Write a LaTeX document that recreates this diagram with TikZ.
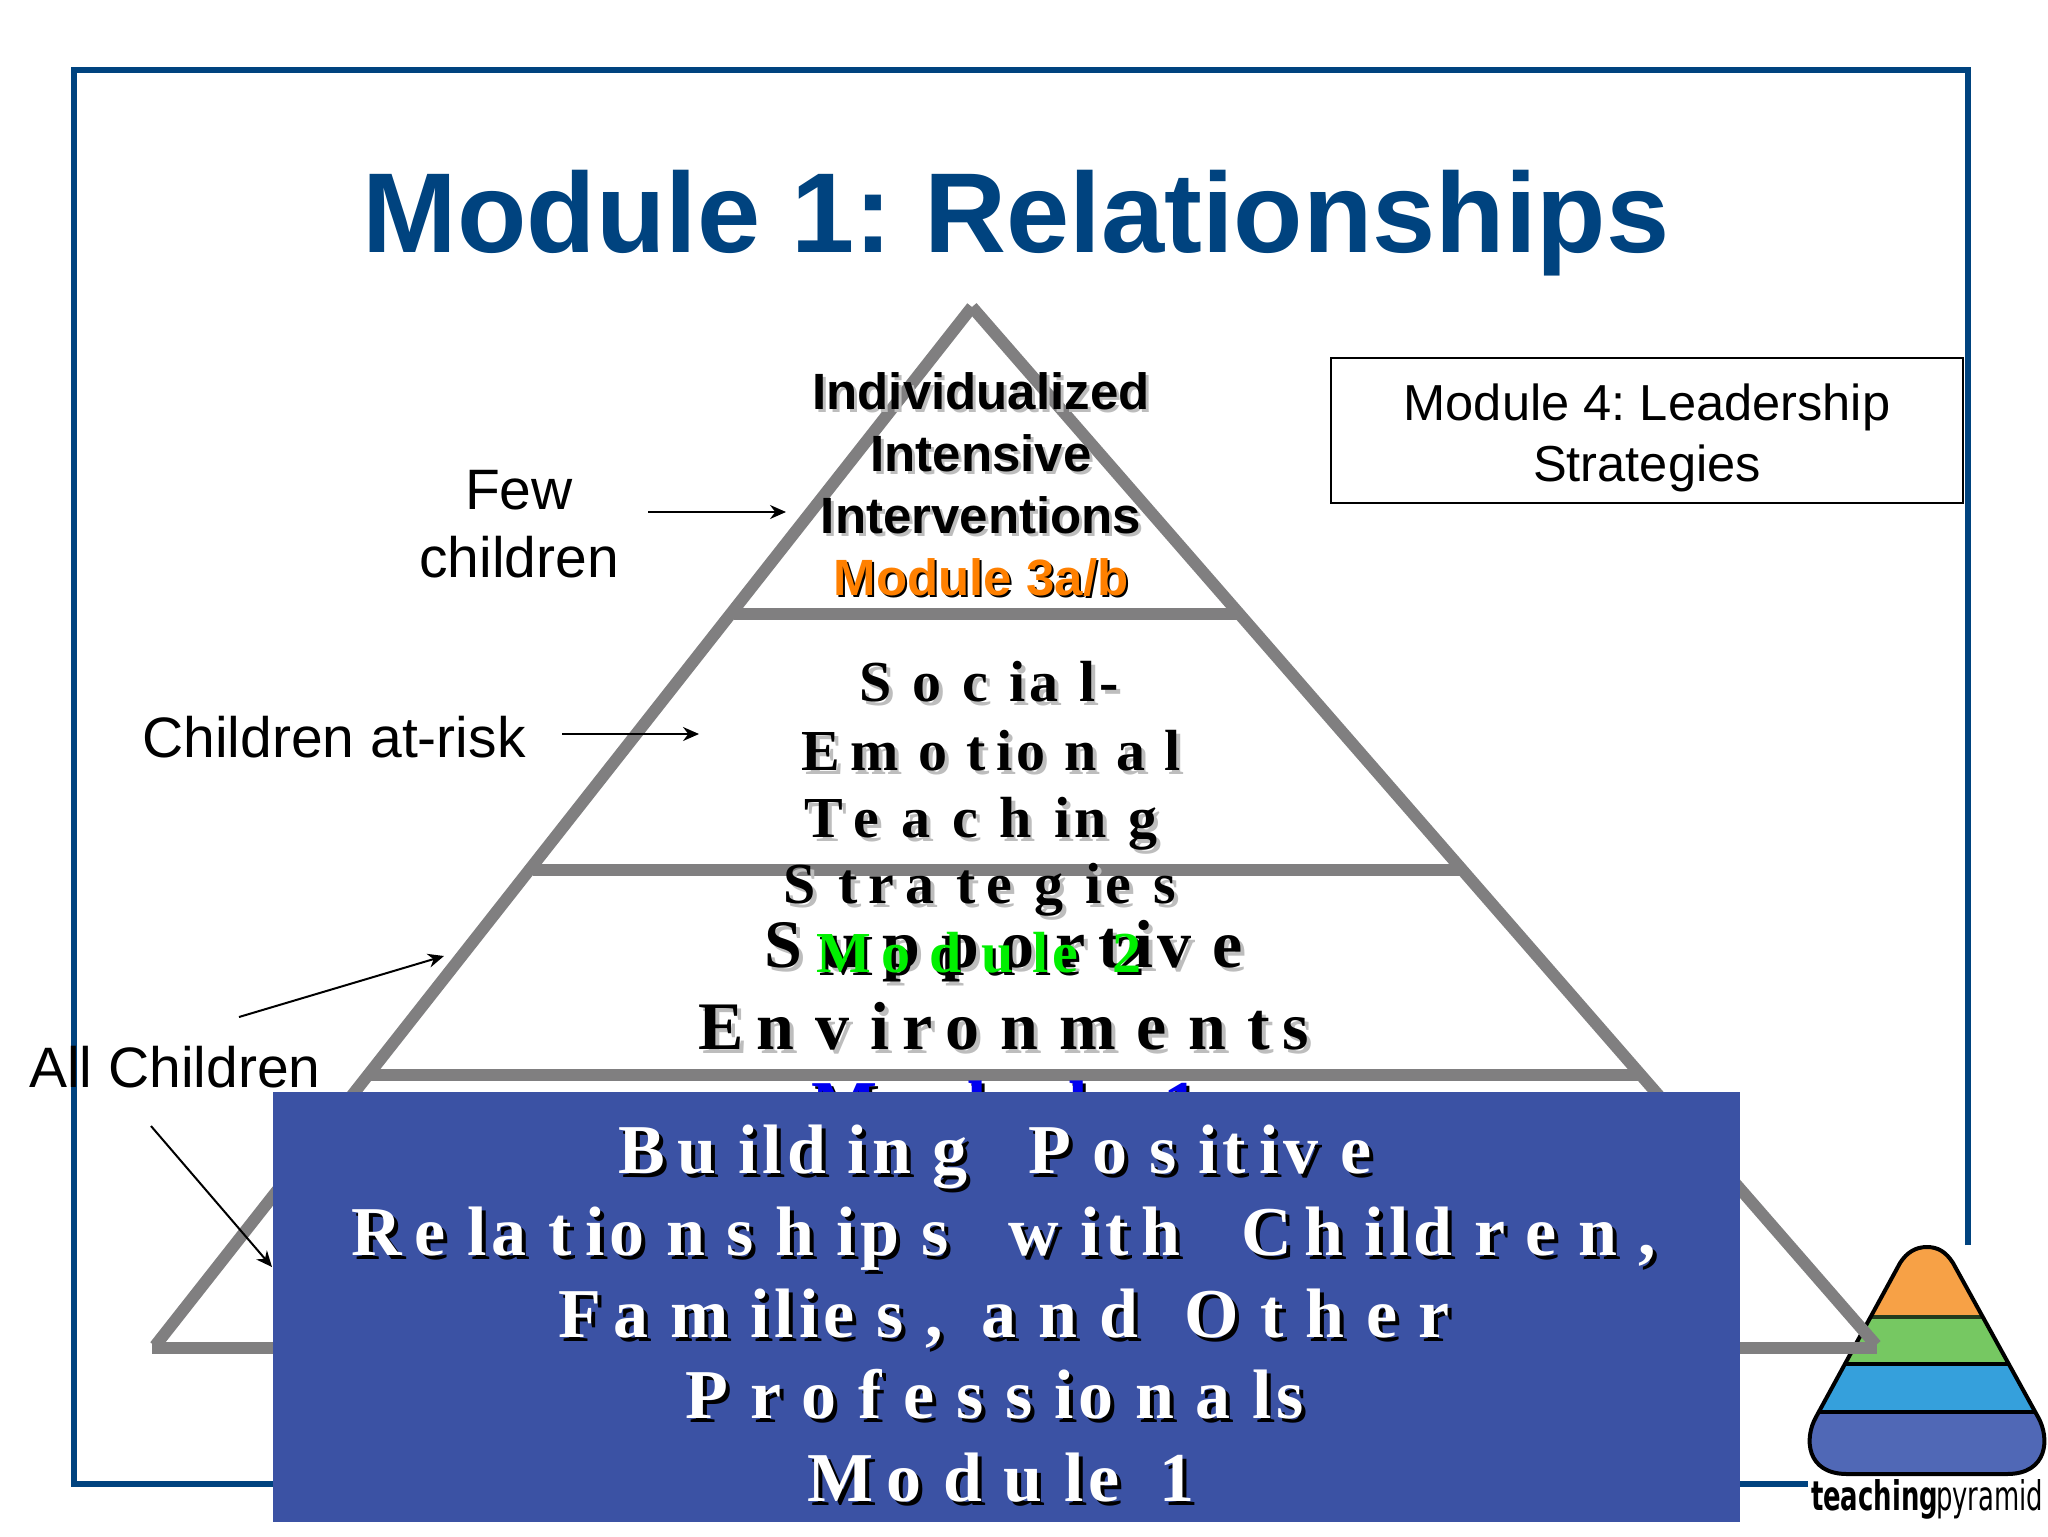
\documentclass[tikz,border=0pt]{standalone}
\usepackage{fontspec}
\usepackage{graphicx}
\setmainfont{Liberation Sans}
\newfontfamily\timesA[LetterSpace=31]{Liberation Serif}
\newfontfamily\timesB[LetterSpace=33]{Liberation Serif}
\newfontfamily\timesC[LetterSpace=31]{Liberation Serif}
\newfontfamily\timesD[LetterSpace=36]{Liberation Serif}
\newfontfamily\timesE[LetterSpace=38]{Liberation Serif}
\newfontfamily\heavyf{DejaVu Sans Condensed}
\definecolor{framec}{HTML}{00437F}
\definecolor{pyrgray}{HTML}{807F80}
\definecolor{boxblue}{HTML}{3B52A4}
\definecolor{shgray}{HTML}{BDBDBD}
\definecolor{orangeT}{HTML}{FF8000}
\definecolor{greenT}{HTML}{00F000}
\definecolor{blueT}{HTML}{0000F0}
\definecolor{logoO}{HTML}{F7A146}
\definecolor{logoG}{HTML}{76C862}
\definecolor{logoB}{HTML}{35A0DC}
\definecolor{logoI}{HTML}{5068B6}
\newcommand{\ki}{\kern.07em }
\newcommand{\kt}{\kern.19em }
\newcommand{\kc}{\kern.18em }
\newcommand{\wg}{\hspace{.3em}}
\newcommand{\fA}{\fontsize{25.5}{30}\selectfont\bfseries}
\newcommand{\fB}{\fontsize{29}{34}\selectfont\bfseries\timesB}
\newcommand{\fBd}{\fontsize{29}{34}\selectfont\bfseries\timesD}
\newcommand{\fBe}{\fontsize{29}{34}\selectfont\bfseries\timesE}
\newcommand{\fC}{\fontsize{34}{40}\selectfont\bfseries\timesA}
\newcommand{\fD}{\fontsize{35}{40}\selectfont\bfseries\timesC}
\newcommand{\fL}{\fontsize{28.5}{32}\selectfont}
\newcommand{\fM}{\fontsize{25.3}{30}\selectfont}
\newcommand{\shtext}[7]{%
  \node[txt,text=#5] (#1s) at (#2+#7,#3+#7) {#6};
  \node[txt,text=#4] (#1) at (#2,#3) {#6};}
\usetikzlibrary{arrows.meta}
\tikzset{
  txt/.style={anchor=base,inner sep=0pt,outer sep=0pt},
  frameline/.style={draw=framec,line width=3pt},
  pyr/.style={draw=pyrgray,line width=6pt,line cap=butt},
  note/.style={draw=black,line width=1pt,-{Stealth[length=8pt,width=7pt]}},
  sep/.style={draw=black,line width=2pt},
}
\begin{document}
\frenchspacing
\begin{tikzpicture}[x=0.5pt,y=-0.5pt]
\useasboundingbox (0,0) rectangle (2048,1536);
\fill[white] (0,0) rectangle (2048,1536);
% frame
\coordinate (fa) at (1968,1245);
\coordinate (fb) at (1968,70);
\coordinate (fc) at (74,70);
\coordinate (fd) at (74,1484);
\coordinate (fe) at (1808,1484);
\draw[frameline,line join=miter] (fa) -- (fb) -- (fc) -- (fd) -- (fe);
% title
\node[txt,text=framec,font=\fontsize{56.8}{60}\selectfont\bfseries] (title) at (1016,252) {Module 1: Relationships};
% logo
\def\logopath{(1927,1247) .. controls (1938,1247) and (1946,1252) .. (1953,1263) -- (2038,1417) .. controls (2050,1438) and (2048,1474) .. (2007,1474) -- (1847,1474) .. controls (1806,1474) and (1804,1438) .. (1816,1417) -- (1900,1263) .. controls (1907,1252) and (1916,1247) .. (1927,1247) -- cycle}
\begin{scope}
\clip \logopath;
\fill[logoO] (1800,1240) rectangle (2048,1317);
\fill[logoG] (1800,1317) rectangle (2048,1364);
\fill[logoB] (1800,1364) rectangle (2048,1412);
\fill[logoI] (1800,1412) rectangle (2048,1480);
\draw[sep,draw=black!70!logoG] (1800,1317) -- (2048,1317);
\draw[sep] (1800,1364) -- (2048,1364);
\draw[sep] (1800,1412) -- (2048,1412);
\end{scope}
\draw[black,line width=2pt] \logopath;
\node[txt,anchor=base west] (logoa) at (1811,1510) {\scalebox{0.72}[1.02]{\heavyf\fontsize{20}{20}\selectfont\bfseries teaching}};
\node[txt,anchor=base west] (logob) at (1936,1510) {\scalebox{0.72}[1.02]{\heavyf\fontsize{20}{20}\selectfont pyramid}};
% pyramid
\coordinate (apex) at (972,307);
\coordinate (bl) at (155,1346);
\coordinate (br) at (1876,1345);
\coordinate (hl) at (152,1348);
\coordinate (hr) at (1877,1348);
\draw[pyr] (bl) -- (apex);
\draw[pyr] (apex) -- (br);
\draw[pyr] (hl) -- (hr);
\coordinate (l1a) at (734,614); \coordinate (l1b) at (1240,614);
\coordinate (l2a) at (533,870); \coordinate (l2b) at (1460,870);
\coordinate (l3a) at (370,1075); \coordinate (l3b) at (1639,1075);
\draw[pyr] (l1a) -- (l1b);
\draw[pyr] (l2a) -- (l2b);
\draw[pyr] (l3a) -- (l3b);
% top tier
\shtext{t1}{981}{409}{black}{shgray}{\fA Individualized}{3}
\shtext{t2}{981}{471}{black}{shgray}{\fA Intensive}{3}
\shtext{t3}{981}{533}{black}{shgray}{\fA Interventions}{3}
\shtext{t4}{981}{595}{orangeT}{black}{\fA Module 3a/b}{2}
% third tier
\shtext{s1}{1004}{967}{black}{shgray}{\fC Suppor\kt t\kt i\ki ve}{4}
\shtext{s2}{1004}{1049}{black}{shgray}{\fC E\kc nvi\kt r\kt onment\kt s}{4}
% second tier
\shtext{e1}{989}{701}{black}{shgray}{\fBd Soci\ki al\ki -}{4}
\shtext{e2}{991}{770}{black}{shgray}{\fB E\kc mot\kt i\ki onal}{4}
\shtext{e3}{981}{837}{black}{shgray}{\fBe T\kc eachi\ki ng}{4}
\shtext{e4}{980}{903}{black}{shgray}{\fBe St\kt r\kt at\kt egi\ki es}{4}
\shtext{e5}{979}{972}{greenT}{black}{\fB M\kc odul\ki e 2}{3}
\shtext{m1}{1005}{1129}{blueT}{black}{\fD M\kc odul\ki e 1}{3}
% box
\fill[boxblue] (273,1092) rectangle (1740,1522);
\shtext{b1}{995}{1173}{white}{black}{\fD B\kc ui\ki l\ki di\ki ng\wg{} Posi\ki t\kt i\ki ve}{4}
\shtext{b2}{1004}{1255}{white}{black}{\fD R\kc el\ki at\kt i\ki onshi\ki ps\wg{} wi\ki t\kt h\wg{} C\kc hi\ki l\ki dren,}{4}
\shtext{b3}{1004}{1337}{white}{black}{\fD F\kc ami\ki l\ki i\ki es, and\hspace{.1em} Other}{4}
\shtext{b4}{995}{1418}{white}{black}{\fD Professi\ki onal\ki s}{4}
\shtext{b5}{1001}{1501}{white}{black}{\fD M\kc odul\ki e 1}{4}
% labels
\node[txt] (few) at (519,509) {\fL Few};
\node[txt] (child) at (519,577) {\fL children};
\node[txt] (risk) at (334,757) {\fL Children at-risk};
\node[txt] (all) at (175,1087) {\fL All Children};
% module 4 box
\draw[black,line width=.8pt] (1331,358) rectangle (1963,503);
\node[txt] (m4a) at (1647,420) {\fM Module 4: Leadership};
\node[txt] (m4b) at (1647,481) {\fM Strategies};
% arrows
\coordinate (a1s) at (648,512); \coordinate (a1e) at (786,512);
\coordinate (a2s) at (562,734); \coordinate (a2e) at (699,734);
\coordinate (a3s) at (239,1017); \coordinate (a3e) at (444,956);
\coordinate (a4s) at (151,1126); \coordinate (a4e) at (272,1267);
\draw[note] (a1s) -- (a1e);
\draw[note] (a2s) -- (a2e);
\draw[note] (a3s) -- (a3e);
\draw[note] (a4s) -- (a4e);
\end{tikzpicture}
\end{document}
